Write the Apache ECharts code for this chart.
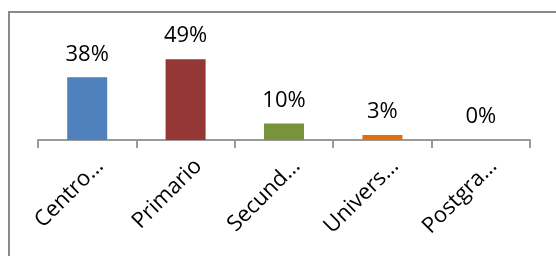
<!DOCTYPE html>
<html>
<head>
<meta charset="utf-8">
<script src="https://cdn.jsdelivr.net/npm/echarts@6/dist/echarts.min.js"></script>
<style>
  html, body { margin: 0; padding: 0; background: #fff; }
  #chart { width: 556px; height: 256px; }
</style>
</head>
<body>
<div id="chart"></div>
<script>
var categories = ['Centro…', 'Primario', 'Secund…', 'Univers…', 'Postgra…'];
var values = [38, 49, 10, 3, 0];
var colors = ['#4F81BD', '#953735', '#77933C', '#E46C0A', '#8064A2'];

var chart = echarts.init(document.getElementById('chart'));

var data = [];
for (var i = 0; i < values.length; i++) {
    data.push({ value: values[i], itemStyle: { color: colors[i] } });
}

var option = {
    animation: false,
    textStyle: { fontFamily: 'Open Sans' },
    graphic: [{
        type: 'rect',
        shape: { x: 9, y: 12, width: 700, height: 400 },
        style: { fill: 'none', stroke: '#8a8a8a', lineWidth: 2 }
    }],
    grid: { left: 38, right: 26, top: 41, bottom: 116 },
    xAxis: {
        type: 'category',
        data: categories,
        axisLine: { lineStyle: { color: '#9a9a9a', width: 2 } },
        axisTick: { show: true, length: 8, lineStyle: { color: '#9a9a9a', width: 2 } },
        axisLabel: {
            rotate: 45, fontSize: 22, color: '#000', margin: 10, interval: 0,
            verticalAlign: 'top', lineHeight: 36
        }
    },
    yAxis: {
        type: 'value',
        min: 0,
        max: 60,
        show: false
    },
    series: [{
        type: 'bar',
        barWidth: 40,
        data: data,
        label: {
            show: true,
            position: 'top',
            distance: 12,
            fontSize: 22,
            color: '#000',
            formatter: '{c}%'
        }
    }]
};

chart.setOption(option);
</script>
</body>
</html>
